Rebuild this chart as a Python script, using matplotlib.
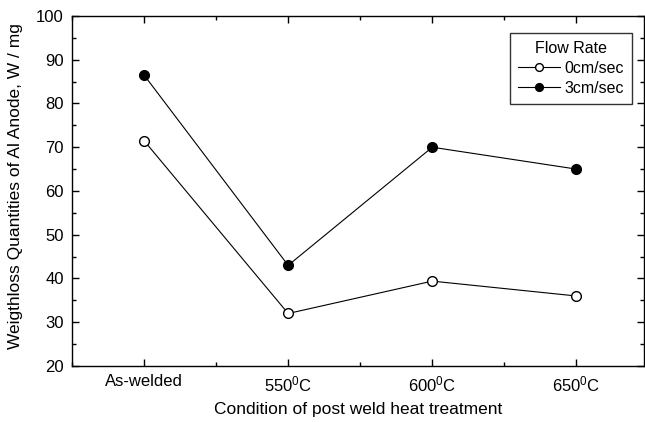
import matplotlib
matplotlib.use("Agg")
import matplotlib.pyplot as plt
from matplotlib.ticker import MultipleLocator

plt.rcParams['font.family'] = ['Liberation Sans', 'DejaVu Sans']
plt.rcParams['mathtext.default'] = 'regular'

# Dados
condicoes = ['As-welded', '550$^{0}$C', '600$^{0}$C', '650$^{0}$C']
fluxo_0 = [71.5, 32.0, 39.4, 36.0]
fluxo_3 = [86.5, 43.0, 70.0, 65.0]
rotulos = ['0cm/sec', '3cm/sec']

fig = plt.figure(figsize=(6.45, 4.22), dpi=100)
ax = fig.add_axes([0.1116, 0.1327, 0.887, 0.8295])

x = range(len(condicoes))
ax.plot(x, fluxo_0, '-o', color='black', lw=0.8, ms=7, mfc='white', mec='black', mew=1.0, label=rotulos[0])
ax.plot(x, fluxo_3, '-o', color='black', lw=0.8, ms=7, mfc='black', mec='black', label=rotulos[1])

ax.set_xlim(-0.5, 3.47)
ax.set_ylim(20, 100)
ax.set_xticks(list(x))
ax.set_xticklabels(condicoes)
ax.xaxis.set_minor_locator(MultipleLocator(0.5))
ax.yaxis.set_major_locator(MultipleLocator(10))
ax.yaxis.set_minor_locator(MultipleLocator(5))
ax.tick_params(which='both', direction='in', top=True, right=True, labelsize=12)
ax.tick_params(axis='x', pad=6)
ax.tick_params(axis='y', pad=6)
ax.tick_params(which='major', length=5, width=1)
ax.tick_params(which='minor', length=3, width=1)
for s in ax.spines.values():
    s.set_linewidth(1.0)

ax.set_xlabel('Condition of post weld heat treatment', fontsize=12.5)
ax.set_ylabel('Weigthloss Quantities of Al Anode, W / mg', fontsize=12.5)
ax.xaxis.set_label_coords(0.5, -0.103)
ax.yaxis.set_label_coords(-0.086, 0.514)

leg = ax.legend(title='Flow Rate', loc='upper right', bbox_to_anchor=(0.979, 0.951),
                borderaxespad=0, fontsize=11.5, title_fontsize=11.5, frameon=True,
                fancybox=False, edgecolor='black', handlelength=2.6, handletextpad=0.3,
                borderpad=0.5, labelspacing=0.3, markerscale=0.8)
leg.get_frame().set_linewidth(1.0)

fig.savefig('out.png', dpi=100)
